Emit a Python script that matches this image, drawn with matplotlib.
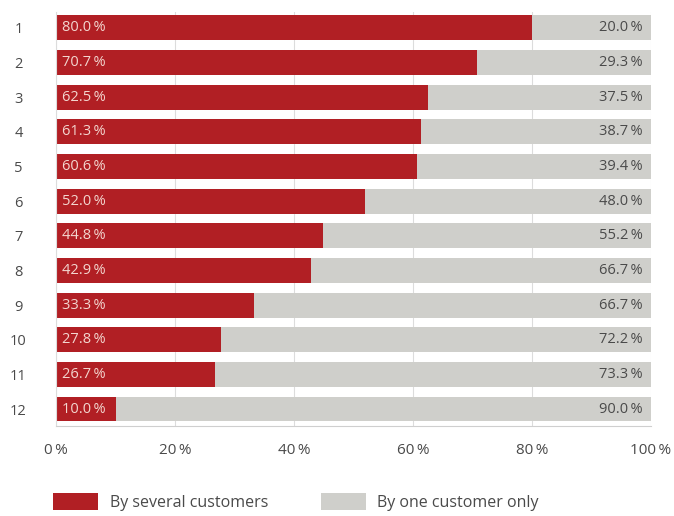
import matplotlib
matplotlib.use("Agg")
import matplotlib.pyplot as plt
from matplotlib.patches import Patch

rows = ["1", "2", "3", "4", "5", "6", "7", "8", "9", "10", "11", "12"]
several = [80.0, 70.7, 62.5, 61.3, 60.6, 52.0, 44.8, 42.9, 33.3, 27.8, 26.7, 10.0]
one_only = [20.0, 29.3, 37.5, 38.7, 39.4, 48.0, 55.2, 66.7, 66.7, 72.2, 73.3, 90.0]
x_ticks = [0, 20, 40, 60, 80, 100]
legend_labels = ["By several customers", "By one customer only"]

RED = "#b11f24"
GREY = "#cfcfcb"
TEXT = "#4a4a4a"

plt.rcParams["font.family"] = ["Open Sans", "DejaVu Sans"]

fig = plt.figure(figsize=(6.74, 5.16), dpi=100)
ax = fig.add_axes([56 / 674, 1 - 426 / 516, 595 / 674, 414 / 516])

ypos = list(range(len(rows)))
bh = 0.72
ax.barh(ypos, several, height=bh, color=RED, zorder=2)
ax.barh(ypos, one_only, left=several, height=bh, color=GREY, zorder=2)

for y, a, b in zip(ypos, several, one_only):
    ax.text(1.0, y, f"{a:.1f}\u2009%", va="center", ha="left", fontsize=10.5,
            color="#f3d6cf", zorder=3)
    ax.text(98.6, y, f"{b:.1f}\u2009%", va="center", ha="right", fontsize=10.5,
            color=TEXT, zorder=3)

ax.set_xlim(0, 100)
ax.set_ylim(len(rows) - 1 + 0.49, -0.46)
ax.set_yticks(ypos)
ax.set_yticklabels(rows, fontsize=10.5, color=TEXT)
ax.set_xticks(x_ticks)
ax.set_xticklabels([f"{t}\u2009%" for t in x_ticks], fontsize=11, color=TEXT)
ax.tick_params(axis="both", length=0)
ax.tick_params(axis="y", pad=27)
ax.tick_params(axis="x", pad=12)
for lbl in ax.get_yticklabels():
    lbl.set_horizontalalignment("center")

ax.grid(axis="x", color="#dcdcdc", linewidth=0.8, zorder=1)
ax.set_axisbelow(True)
for side in ["top", "right"]:
    ax.spines[side].set_visible(False)
ax.spines["left"].set_color("#dcdcdc")
ax.spines["bottom"].set_color("#cfcfcf")

handles = [Patch(facecolor=RED), Patch(facecolor=GREY)]
fig.legend(handles, legend_labels, loc="center left",
           bbox_to_anchor=(53 / 674, 1 - 502 / 516), ncol=2, frameon=False,
           borderpad=0, borderaxespad=0,
           fontsize=11.5, handlelength=2.8, handleheight=1.2,
           columnspacing=3.3, handletextpad=0.75, labelcolor=TEXT)

fig.savefig("out.png", dpi=100)
